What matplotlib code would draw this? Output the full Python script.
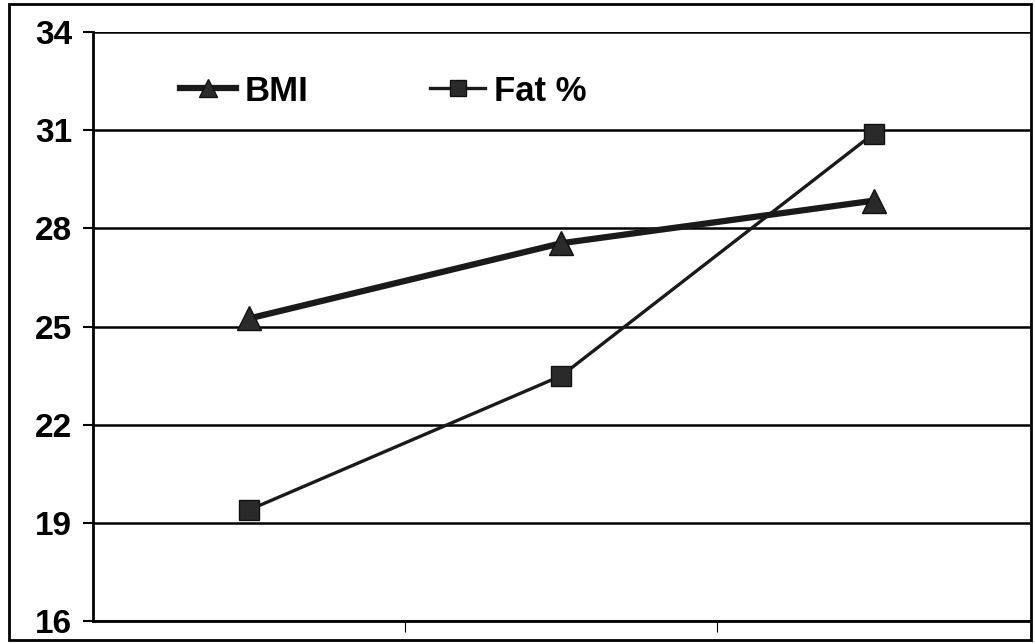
import matplotlib
matplotlib.use("Agg")
import matplotlib.pyplot as plt
import matplotlib.patches as patches

plt.rcParams['font.family'] = ['Liberation Sans', 'DejaVu Sans']

groups = ['1', '2', '3']
bmi = [25.25, 27.55, 28.85]
fat = [19.4, 23.5, 30.9]
yticks = [16, 19, 22, 25, 28, 31, 34]

fig = plt.figure(figsize=(10.35, 6.43), dpi=100)
ax = fig.add_axes([0.0899, 0.034, 0.905, 0.916])

x = list(range(len(groups)))
ax.plot(x, bmi, color='#1a1a1a', lw=4.5, marker='^', ms=17,
        mfc='#2a2a2a', mec='#111111', label='BMI', zorder=3)
ax.plot(x, fat, color='#1a1a1a', lw=2.4, marker='s', ms=15,
        mfc='#2a2a2a', mec='#111111', label='Fat %', zorder=3)

ax.set_xlim(-0.5, len(groups) - 0.5)
ax.set_ylim(16, 34)
ax.set_yticks(yticks)
ax.set_yticklabels([str(t) for t in yticks], fontsize=24, fontweight='bold')
ax.yaxis.grid(True, color='black', lw=1.8)
ax.set_axisbelow(True)

# category separators on the x axis, no labels
ax.set_xticks([0.5, 1.5])
ax.set_xticklabels([])
ax.tick_params(axis='x', direction='out', length=8, width=0.8)
ax.tick_params(axis='y', direction='out', length=7, width=1.5, pad=8)

for s in ['top', 'right']:
    ax.spines[s].set_visible(False)
ax.spines['left'].set_linewidth(2)
ax.spines['bottom'].set_linewidth(2)

leg = ax.legend(loc='upper left', bbox_to_anchor=(0.093, 0.928), ncol=2,
                frameon=False, handlelength=1.6, handletextpad=0.25,
                columnspacing=3.5, markerscale=0.8, borderpad=0,
                borderaxespad=0, prop={'size': 25, 'weight': 'bold'})

# outer frame of the chart
fig.patches.append(patches.Rectangle((0.009, 0.004), 0.987, 0.99,
                                     transform=fig.transFigure, fill=False,
                                     lw=2, ec='black'))

fig.savefig('out.png', dpi=100)
